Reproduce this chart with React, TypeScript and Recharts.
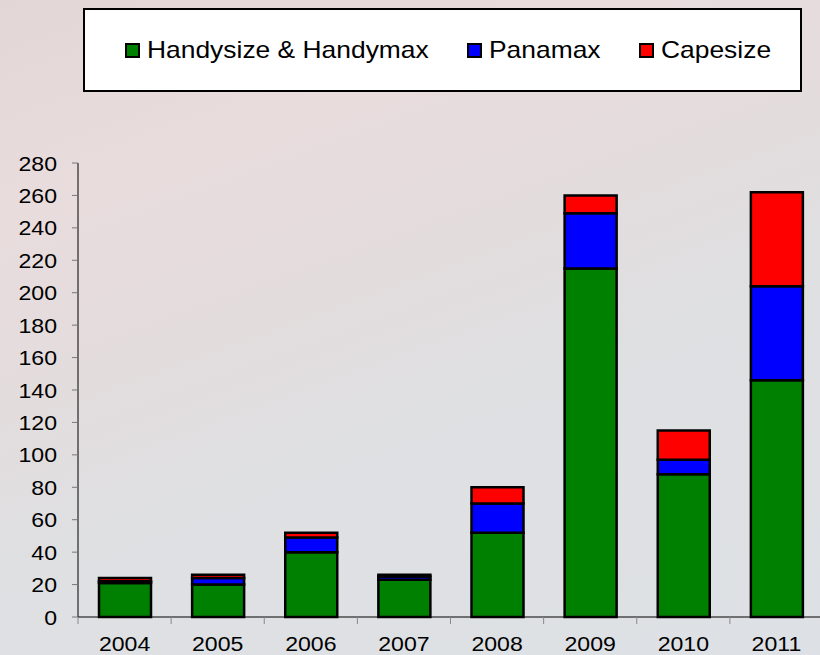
import React from "react";
import { BarChart, Bar, XAxis, YAxis, Legend } from "recharts";

// dry bulk newbuilding orders by segment
const years = ["2004", "2005", "2006", "2007", "2008", "2009", "2010", "2011"];
const handy = [21, 20, 40, 23, 52, 215, 88, 146];
const panamax = [1, 4, 9, 2, 18, 34, 9, 58];
const capesize = [2, 2, 3, 1, 10, 11, 18, 58];
const yTicks = [0, 20, 40, 60, 80, 100, 120, 140, 160, 180, 200, 220, 240, 260, 280];
const seriesNames = ["Handysize & Handymax", "Panamax", "Capesize"];
const seriesColors = ["#008000", "#0000ff", "#ff0000"];

const FONT = "'Liberation Sans', Arial, sans-serif";

const chartData = years.map((year, i) => ({
    year,
    [seriesNames[0]]: handy[i],
    [seriesNames[1]]: panamax[i],
    [seriesNames[2]]: capesize[i],
}));

function YTick(props: any) {
    const { x, y, payload } = props;
    return (
        <g transform={`translate(${x - 13},${y})`}>
            <text transform="scale(1.1,1)" textAnchor="end" dy="0.36em" fontSize={21} fontFamily={FONT} fill="#000">
                {payload.value}
            </text>
        </g>
    );
}

function XTick(props: any) {
    const { x, y, payload } = props;
    const half = payload.offset || 0;
    return (
        <g>
            <line x1={x - half} x2={x - half} y1={y} y2={y + 7} stroke="#888" strokeWidth={1} />
            <g transform={`translate(${x},${y + 34})`}>
                <text transform="scale(1.1,1)" textAnchor="middle" fontSize={21} fontFamily={FONT} fill="#000">
                    {payload.value}
                </text>
            </g>
        </g>
    );
}

function LegendBox() {
    const widths = [342, 172, 160];
    return (
        <div
            style={{
                width: 719,
                height: 84,
                boxSizing: "border-box",
                border: "2px solid #000",
                background: "#fff",
                display: "flex",
                alignItems: "center",
                paddingLeft: 40,
            }}
        >
            {seriesNames.map((name, i) => (
                <div key={name} style={{ width: widths[i], flex: "none", display: "flex", alignItems: "center" }}>
                    <span
                        style={{
                            width: 11,
                            height: 11,
                            border: "2px solid #000",
                            background: seriesColors[i],
                            marginRight: 7,
                            flex: "none",
                        }}
                    />
                    <span
                        style={{
                            display: "inline-block",
                            fontFamily: FONT,
                            fontSize: 24,
                            lineHeight: 1,
                            color: "#000",
                            transform: "scaleX(1.1)",
                            transformOrigin: "left center",
                            whiteSpace: "nowrap",
                        }}
                    >
                        {name}
                    </span>
                </div>
            ))}
        </div>
    );
}

export default function App() {
    return (
        <div
            style={{
                position: "absolute",
                left: 0,
                top: 0,
                width: 820,
                height: 655,
                overflow: "hidden",
                background:
                    "linear-gradient(160deg, #e2d6d7 0%, #e9dcdd 22%, #e3dcdd 42%, #dfe0e2 60%, #dde1e5 100%)",
            }}
        >
            <BarChart
                width={823}
                height={655}
                data={chartData}
                margin={{ top: 163, right: 0, bottom: 0, left: 0 }}
            >
                <XAxis
                    dataKey="year"
                    height={38}
                    tickSize={0}
                    tickMargin={0}
                    tickLine={false}
                    axisLine={{ stroke: "#000", strokeWidth: 1 }}
                    tick={<XTick />}
                    interval={0}
                />
                <YAxis
                    width={78}
                    domain={[0, 280]}
                    ticks={yTicks}
                    interval={0}
                    tickSize={6}
                    tickLine={{ stroke: "#777", strokeWidth: 1 }}
                    axisLine={{ stroke: "#000", strokeWidth: 1 }}
                    tick={<YTick />}
                />
                <Legend
                    layout="horizontal"
                    verticalAlign="middle"
                    align="center"
                    content={<LegendBox />}
                    wrapperStyle={{ top: 8, left: 83, width: 719, height: 84 }}
                />
                {seriesNames.map((name, i) => (
                    <Bar
                        key={name}
                        dataKey={name}
                        stackId="a"
                        fill={seriesColors[i]}
                        stroke="#000"
                        strokeWidth={2.5}
                        barSize={52}
                        isAnimationActive={false}
                    />
                ))}
            </BarChart>
        </div>
    );
}
